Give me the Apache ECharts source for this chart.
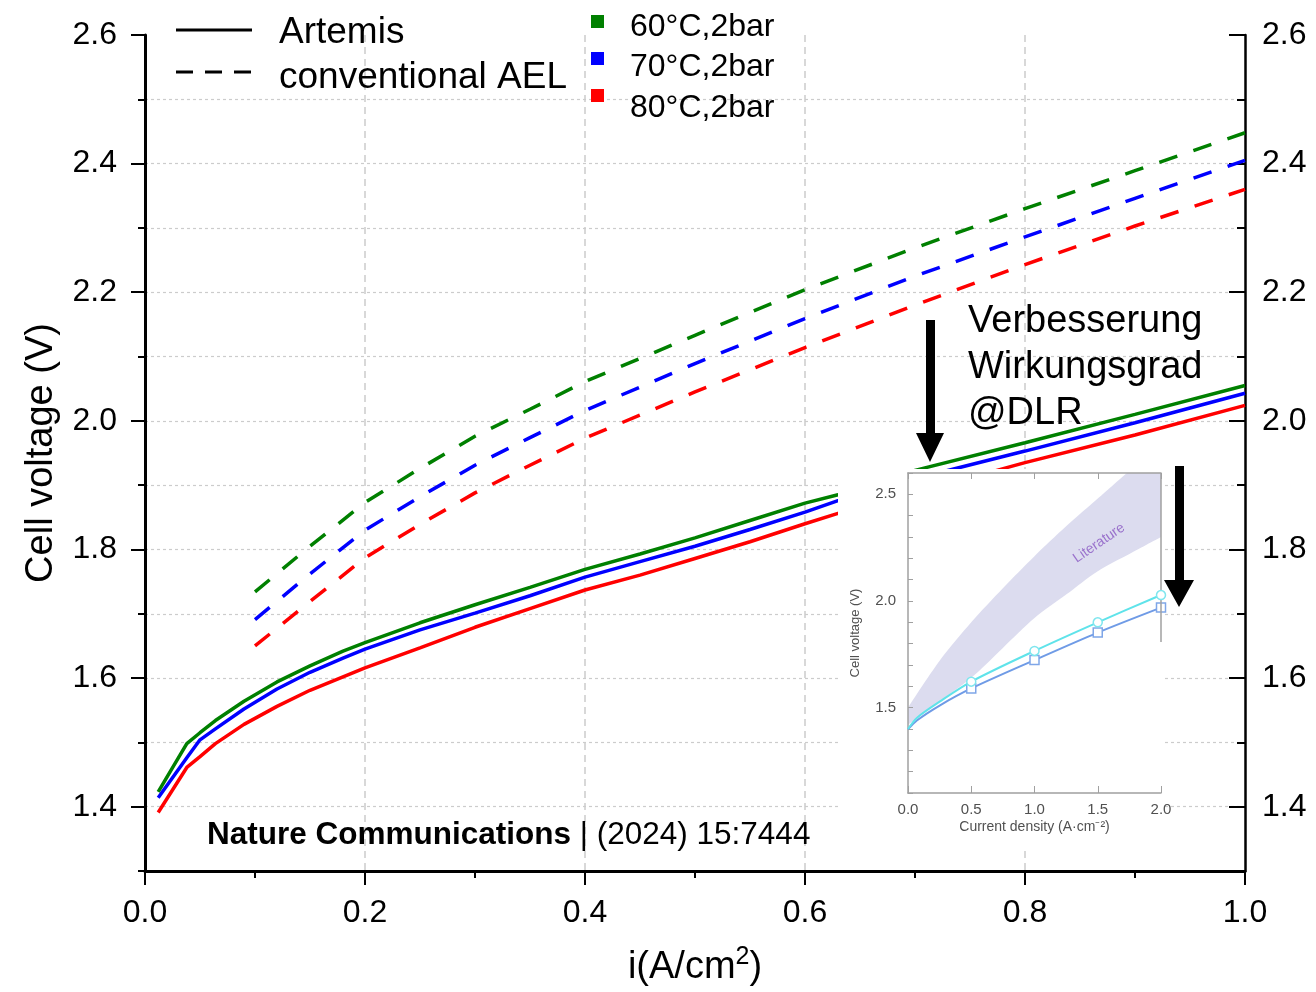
<!DOCTYPE html>
<html>
<head>
<meta charset="utf-8">
<script src="https://cdn.jsdelivr.net/npm/echarts@6/dist/echarts.min.js"></script>
<style>
  html, body { margin: 0; padding: 0; background: #fff; }
  #chart { width: 1316px; height: 992px; }
</style>
</head>
<body>
<div id="chart"></div>
<script>
// Artemis (solid) - current density and cell voltage
const artemisX = [0.012, 0.038, 0.05, 0.064, 0.09, 0.12, 0.15, 0.18, 0.2, 0.25, 0.3, 0.35, 0.4, 0.45, 0.5, 0.55, 0.6, 0.63, 0.7, 0.8, 0.9, 1.0]
const artemis60 = [1.423, 1.498, 1.515, 1.534, 1.564, 1.594, 1.619, 1.642, 1.655, 1.686, 1.714, 1.741, 1.769, 1.793, 1.818, 1.845, 1.872, 1.885, 1.923, 1.966, 2.010, 2.055]
const artemis70 = [1.414, 1.476, 1.504, 1.521, 1.552, 1.583, 1.609, 1.631, 1.645, 1.675, 1.701, 1.728, 1.757, 1.781, 1.805, 1.831, 1.858, 1.876, 1.910, 1.953, 1.997, 2.043]
const artemis80 = [1.391, 1.461, 1.478, 1.498, 1.528, 1.556, 1.581, 1.602, 1.616, 1.647, 1.679, 1.708, 1.737, 1.760, 1.786, 1.812, 1.840, 1.856, 1.888, 1.935, 1.978, 2.024]

// conventional AEL (dashed)
const aelX = [0.1, 0.15, 0.2, 0.25, 0.3, 0.35, 0.4, 0.5, 0.6, 0.7, 0.8, 0.9, 1.0]
const ael60 = [1.734, 1.805, 1.873, 1.926, 1.976, 2.018, 2.061, 2.133, 2.204, 2.269, 2.330, 2.389, 2.448]
const ael70 = [1.691, 1.762, 1.830, 1.882, 1.931, 1.974, 2.016, 2.089, 2.159, 2.225, 2.286, 2.346, 2.405]
const ael80 = [1.650, 1.719, 1.787, 1.839, 1.888, 1.931, 1.973, 2.045, 2.114, 2.180, 2.243, 2.303, 2.360]

const conditions = ['60°C,2bar', '70°C,2bar', '80°C,2bar']
const condColors = ['#008000', '#0000ff', '#ff0000']
const yMajorTicks = [1.4, 1.6, 1.8, 2.0, 2.2, 2.4, 2.6]

// inset (DLR result vs. literature)
const insetX = [0, 0.07, 0.25, 0.5, 1.0, 1.5, 2.0]
const insetCyan = [1.400, 1.452, 1.528, 1.622, 1.766, 1.900, 2.028]
const insetBlue = [1.398, 1.440, 1.510, 1.590, 1.723, 1.852, 1.969]
const litX = [0, 0.25, 0.5, 0.75, 1.0, 1.25, 1.5, 1.75, 2.0]
const litLower = [1.42, 1.53, 1.64, 1.78, 1.92, 2.03, 2.14, 2.22, 2.30]
// upper edge leaves the frame near 1.7 A/cm2 (clipped at the top)
const litUpper = [1.50, 1.72, 1.90, 2.06, 2.21, 2.35, 2.48, 2.61, 2.74]

const FONT = '"Liberation Sans", Arial, sans-serif'

function pairs(xs, ys) {
  return xs.map((x, i) => [x, ys[i]])
}

function markedPairs(xs, ys) {
  return xs.map((x, i) => ({
    value: [x, ys[i]],
    symbol: (x > 0 && x % 0.5 === 0) ? undefined : 'none',
  }))
}

const chart = echarts.init(document.getElementById('chart'), null, { renderer: 'canvas' })

const solidSeries = [artemis60, artemis70, artemis80].map((ys, i) => ({
  name: 'Artemis ' + conditions[i],
  type: 'line',
  xAxisIndex: 0,
  yAxisIndex: 0,
  data: pairs(artemisX, ys),
  showSymbol: false,
  lineStyle: { color: condColors[i], width: 3.5 },
  z: 3,
}))

const dashedSeries = [ael60, ael70, ael80].map((ys, i) => ({
  name: 'conventional AEL ' + conditions[i],
  type: 'line',
  xAxisIndex: 0,
  yAxisIndex: 0,
  data: pairs(aelX, ys),
  showSymbol: false,
  lineStyle: { color: condColors[i], width: 3.5, type: [19, 17] },
  z: 3,
}))

// literature band: lavender area under the upper edge, then white area under the lower edge
const insetSeries = [
  {
    type: 'line', xAxisIndex: 1, yAxisIndex: 4,
    data: pairs(litX, litUpper), smooth: 0.3,
    showSymbol: false, lineStyle: { width: 0 },
    areaStyle: { color: '#dcdcef', opacity: 1, origin: 'start' }, z: 104, silent: true,
  },
  {
    type: 'line', xAxisIndex: 1, yAxisIndex: 4,
    data: pairs(litX, litLower), smooth: 0.3,
    showSymbol: false, lineStyle: { width: 0 },
    areaStyle: { color: '#ffffff', opacity: 1, origin: 'start' }, z: 105, silent: true,
  },
  {
    type: 'line', xAxisIndex: 1, yAxisIndex: 4,
    data: markedPairs(insetX, insetBlue), smooth: 0.3,
    symbol: 'rect', symbolSize: 9,
    itemStyle: { color: '#fff', borderColor: '#7fa6e8', borderWidth: 1.5 },
    lineStyle: { color: '#6f9be6', width: 2 }, z: 111,
  },
  {
    type: 'line', xAxisIndex: 1, yAxisIndex: 4,
    data: markedPairs(insetX, insetCyan), smooth: 0.3,
    symbol: 'circle', symbolSize: 9,
    itemStyle: { color: '#fff', borderColor: '#7fe6ee', borderWidth: 1.5 },
    lineStyle: { color: '#5fe3ea', width: 2 }, z: 112,
  },
]

const mainY = {
  gridIndex: 0, type: 'value', min: 1.3, max: 2.6, interval: 0.1,
}

const option = {
  animation: false,
  backgroundColor: '#fff',
  grid: [
    { left: 145, right: 71, top: 35, bottom: 119 },
    { left: 908, right: 155, top: 473, bottom: 199 },
  ],
  xAxis: [
    {
      gridIndex: 0, type: 'value', min: 0, max: 1, interval: 0.2, position: 'bottom',
      axisLine: { onZero: false, lineStyle: { color: '#000', width: 3 } },
      axisTick: { length: 14, lineStyle: { color: '#000', width: 2 } },
      minorTick: { show: true, splitNumber: 2, length: 7, lineStyle: { color: '#000', width: 2 } },
      axisLabel: { fontSize: 32, fontFamily: FONT, color: '#000', margin: 26, formatter: v => v.toFixed(1) },
      splitLine: { show: true, showMinLine: false, showMaxLine: false, lineStyle: { color: '#cccccc', width: 1.5, type: [7, 5] } },
      name: '{a|i(A/cm}{s|2}{a|)}',
      nameLocation: 'middle',
      nameGap: 74,
      nameTextStyle: {
        rich: {
          a: { fontSize: 38, fontFamily: FONT, color: '#000', lineHeight: 46 },
          s: { fontSize: 25, fontFamily: FONT, color: '#000', lineHeight: 46, verticalAlign: 'top', padding: [0, 0, 14, 0] },
        },
      },
    },
    {
      gridIndex: 1, type: 'value', min: 0, max: 2, interval: 0.5, position: 'bottom', z: 110,
      axisLine: { onZero: false, lineStyle: { color: '#a0a0a0', width: 1.5 } },
      axisTick: { inside: true, length: 7, lineStyle: { color: '#a0a0a0' } },
      axisLabel: { fontSize: 15, fontFamily: FONT, color: '#505050', margin: 9, formatter: v => v.toFixed(1) },
      splitLine: { show: false },
      name: 'Current density (A·cm⁻²)',
      nameLocation: 'middle',
      nameGap: 27,
      nameTextStyle: { fontSize: 14, fontFamily: FONT, color: '#505050' },
    },
    {
      gridIndex: 1, type: 'value', min: 0, max: 2, interval: 0.5, position: 'top', z: 110,
      axisLine: { onZero: false, lineStyle: { color: '#a0a0a0', width: 1.5 } },
      axisTick: { inside: true, length: 6, lineStyle: { color: '#a0a0a0' } },
      axisLabel: { show: false },
      splitLine: { show: false },
    },
  ],
  yAxis: [
    {
      ...mainY, position: 'left',
      axisLine: { onZero: false, lineStyle: { color: '#000', width: 3 } },
      axisTick: { length: 7, lineStyle: { color: '#000', width: 2 } },
      axisLabel: {
        fontSize: 32, fontFamily: FONT, color: '#000', margin: 28,
        formatter: v => (Math.round(v * 10) % 2 === 0 ? v.toFixed(1) : ''),
      },
      splitLine: { show: true, showMinLine: false, showMaxLine: false, lineStyle: { color: '#cccccc', width: 1.2, type: [3, 3] } },
      name: 'Cell voltage (V)',
      nameLocation: 'middle',
      nameGap: 84,
      nameTextStyle: { fontSize: 38, fontFamily: FONT, color: '#000' },
    },
    {
      ...mainY, position: 'left',
      axisLine: { show: false },
      axisTick: { length: 14, customValues: yMajorTicks, lineStyle: { color: '#000', width: 2 } },
      axisLabel: { show: false },
      splitLine: { show: false },
    },
    {
      ...mainY, position: 'right',
      axisLine: { onZero: false, lineStyle: { color: '#000', width: 2.5 } },
      axisTick: { inside: true, length: 8, lineStyle: { color: '#000', width: 2 } },
      axisLabel: {
        fontSize: 32, fontFamily: FONT, color: '#000', margin: 17,
        formatter: v => (Math.round(v * 10) % 2 === 0 ? v.toFixed(1) : ''),
      },
      splitLine: { show: false },
    },
    {
      ...mainY, position: 'right',
      axisLine: { show: false },
      axisTick: { inside: true, length: 16, customValues: yMajorTicks, lineStyle: { color: '#000', width: 2 } },
      axisLabel: { show: false },
      splitLine: { show: false },
    },
    {
      gridIndex: 1, type: 'value', min: 1.1, max: 2.6, interval: 0.1, position: 'left', z: 110,
      axisLine: { onZero: false, lineStyle: { color: '#a0a0a0', width: 1.5 } },
      axisTick: { inside: true, length: 5, lineStyle: { color: '#a0a0a0' } },
      axisLabel: {
        fontSize: 15, fontFamily: FONT, color: '#505050', margin: 12,
        formatter: v => (Math.round(v * 10) % 5 === 0 ? v.toFixed(1) : ''),
      },
      splitLine: { show: false },
      name: 'Cell voltage (V)',
      nameLocation: 'middle',
      nameGap: 46,
      nameTextStyle: { fontSize: 13, fontFamily: FONT, color: '#505050' },
    },
  ],
  graphic: [
    // inset picture background
    { type: 'rect', z: 100, silent: true, shape: { x: 838, y: 469, width: 327, height: 378 }, style: { fill: '#fff' } },
    { type: 'line', z: 112, silent: true, shape: { x1: 1161, y1: 473, x2: 1161, y2: 642 }, style: { stroke: '#a0a0a0', lineWidth: 1.5 } },
    {
      type: 'text', z: 113, x: 1099, y: 543, rotation: 0.6, silent: true,
      style: { text: 'Literature', font: '14px ' + FONT, fill: '#9a72cc', align: 'center', verticalAlign: 'middle' },
    },
    // arrows
    { type: 'polygon', z: 120, silent: true, shape: { points: [[926, 320], [935, 320], [935, 433], [944, 433], [930, 462], [916, 433], [926, 433]] }, style: { fill: '#000' } },
    { type: 'polygon', z: 120, silent: true, shape: { points: [[1175, 466], [1184, 466], [1184, 580], [1194, 580], [1179, 607], [1164, 580], [1175, 580]] }, style: { fill: '#000' } },
    // annotation
    {
      type: 'text', z: 120, x: 968, y: 299, silent: true,
      style: { text: 'Verbesserung\nWirkungsgrad\n@DLR', font: '38px ' + FONT, fill: '#000', lineHeight: 46 },
    },
    {
      type: 'text', z: 120, x: 207, y: 835, silent: true,
      style: {
        text: '{b|Nature Communications}{n| | (2024) 15:7444}',
        verticalAlign: 'middle',
        rich: {
          b: { fontSize: 31.5, fontWeight: 'bold', fontFamily: FONT, fill: '#000' },
          n: { fontSize: 31.5, fontFamily: FONT, fill: '#000' },
        },
      },
    },
    // legend: line styles
    { type: 'line', z: 120, silent: true, shape: { x1: 176, y1: 30, x2: 252, y2: 30 }, style: { stroke: '#000', lineWidth: 3 } },
    { type: 'line', z: 120, silent: true, shape: { x1: 176, y1: 72, x2: 254, y2: 72 }, style: { stroke: '#000', lineWidth: 3, lineDash: [17, 12] } },
    { type: 'text', z: 120, x: 279, y: 33, silent: true, style: { text: 'Artemis', font: '37px ' + FONT, fill: '#000', verticalAlign: 'middle' } },
    { type: 'text', z: 120, x: 279, y: 78, silent: true, style: { text: 'conventional AEL', font: '37px ' + FONT, fill: '#000', verticalAlign: 'middle' } },
    // legend: conditions
    ...conditions.flatMap((c, i) => [
      { type: 'rect', z: 120, silent: true, shape: { x: 591, y: 15 + i * 37, width: 13, height: 13 }, style: { fill: condColors[i] } },
      { type: 'text', z: 120, x: 630, y: 27 + i * 40.5, silent: true, style: { text: c, font: '32px ' + FONT, fill: '#000', verticalAlign: 'middle' } },
    ]),
  ],
  series: [...solidSeries, ...dashedSeries, ...insetSeries],
}

chart.setOption(option)
</script>
</body>
</html>
